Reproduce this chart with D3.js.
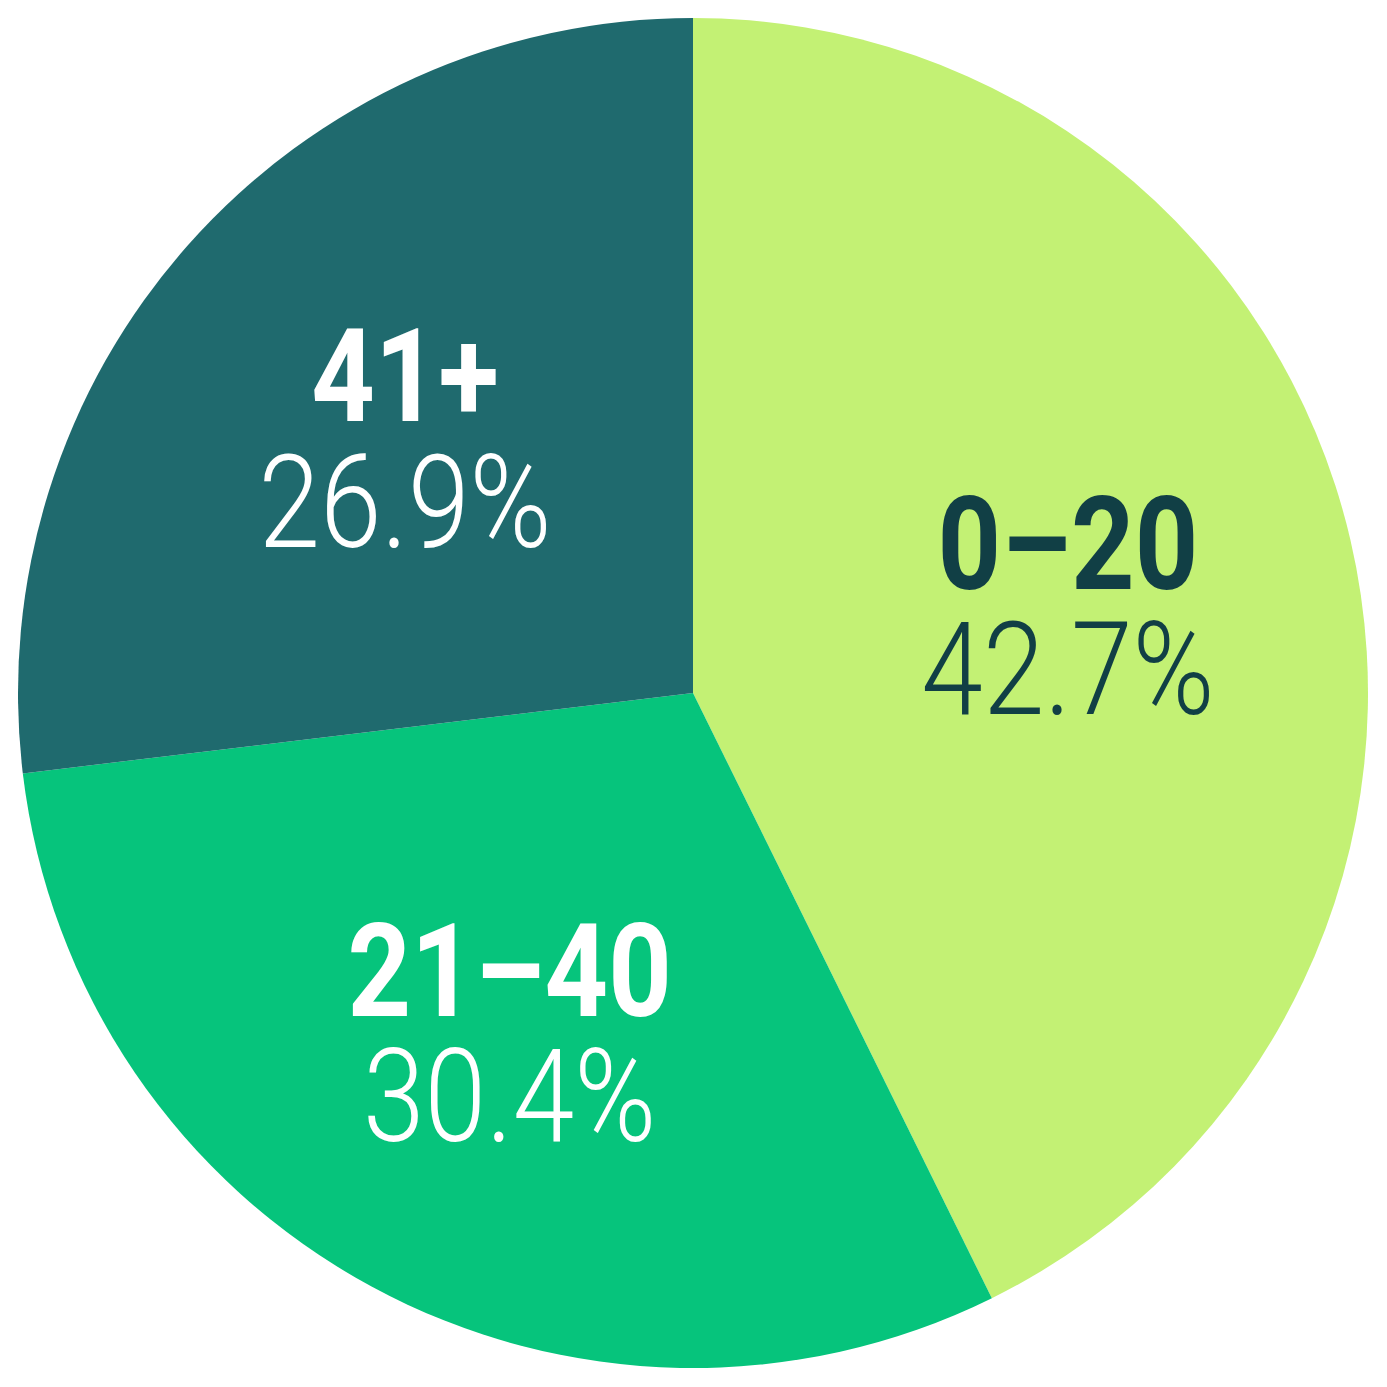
<!DOCTYPE html>
<html>
<head>
<meta charset="utf-8">
<script src="https://cdn.jsdelivr.net/npm/d3@7"></script>
<style>
  html, body { margin: 0; padding: 0; background: #fff; }
  text { font-family: Roboto, "Noto Sans", sans-serif; }
</style>
</head>
<body>
<svg id="pie"></svg>
<script>
// Chart data
const categories = ["0\u201320", "21\u201340", "41+"];
const shares = [42.7, 30.4, 26.9];
const sliceColors = ["#c3f174", "#06c47c", "#1f6a6e"];
const textColors = ["#113f45", "#ffffff", "#ffffff"];

const width = 1387;
const height = 1387;
const cx = 693, cy = 693;
const radius = 675;

const svg = d3.select("#pie")
    .attr("width", width)
    .attr("height", height);

const data = categories.map((c, i) => ({ label: c, value: shares[i], color: sliceColors[i], text: textColors[i] }));

const pie = d3.pie()
    .value(d => d.value)
    .sort(null);

const arc = d3.arc()
    .innerRadius(0)
    .outerRadius(radius);

// labels sit a little past halfway out
const labelArc = d3.arc()
    .innerRadius(385)
    .outerRadius(385);

const g = svg.append("g")
    .attr("transform", `translate(${cx}, ${cy})`);

const arcs = pie(data);

g.selectAll("path")
    .data(arcs)
    .enter().append("path")
    .attr("d", arc)
    .attr("fill", d => d.data.color);

// narrow the glyphs a bit, the original type is condensed
const labels = g.selectAll(".label")
    .data(arcs)
    .enter().append("g")
    .attr("class", "label")
    .attr("transform", d => `translate(${labelArc.centroid(d)}) scale(0.86, 1)`);

labels.append("text")
    .attr("text-anchor", "middle")
    .attr("y", -16)
    .attr("font-size", 129)
    .attr("font-weight", 700)
    .attr("fill", d => d.data.text)
    .text(d => d.data.label);

labels.append("text")
    .attr("text-anchor", "middle")
    .attr("y", 109)
    .attr("font-size", 129)
    .attr("font-weight", 300)
    .attr("fill", d => d.data.text)
    .text(d => d.data.value.toFixed(1) + "%");
</script>
</body>
</html>
